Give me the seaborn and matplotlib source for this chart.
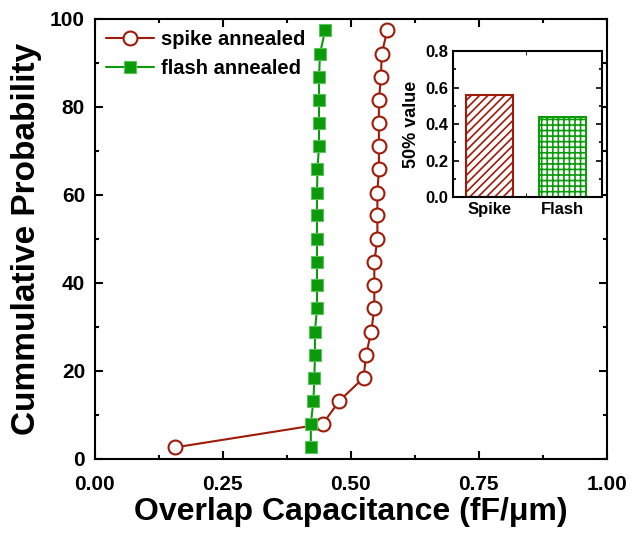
import matplotlib
matplotlib.use("Agg")
import matplotlib.pyplot as plt
import seaborn as sns
import pandas as pd
from matplotlib.ticker import MultipleLocator

# data
spike_cap = [0.157, 0.445, 0.478, 0.525, 0.530, 0.540, 0.546, 0.546, 0.546, 0.552,
             0.552, 0.552, 0.555, 0.555, 0.555, 0.555, 0.559, 0.5605, 0.5715]
spike_prob = [2.6, 7.9, 13.2, 18.4, 23.7, 28.9, 34.2, 39.5, 44.7, 50.0,
              55.3, 60.5, 65.8, 71.1, 76.3, 81.6, 86.8, 92.1, 97.4]
flash_cap = [0.422, 0.422, 0.427, 0.429, 0.430, 0.430, 0.434, 0.434, 0.434, 0.434,
             0.434, 0.434, 0.435, 0.438, 0.438, 0.438, 0.438, 0.440, 0.450]
flash_prob = [2.6, 7.9, 13.2, 18.4, 23.7, 28.9, 34.2, 39.5, 44.7, 50.0,
              55.3, 60.5, 65.8, 71.1, 76.3, 81.6, 86.8, 92.1, 97.4]
bar_labels = ["Spike", "Flash"]
bar_values = [0.558, 0.44]

red = "#a01a08"
green = "#0a9a0a"

sns.set_style("ticks")
plt.rcParams["font.family"] = ["Liberation Sans", "DejaVu Sans"]
plt.rcParams["font.weight"] = "bold"
plt.rcParams["axes.labelweight"] = "bold"
plt.rcParams["xtick.direction"] = "in"
plt.rcParams["ytick.direction"] = "in"
plt.rcParams["hatch.linewidth"] = 1.2
for k in ["text.color", "axes.labelcolor", "xtick.color", "ytick.color",
          "xtick.labelcolor", "ytick.labelcolor", "axes.edgecolor"]:
    plt.rcParams[k] = "black"

fig = plt.figure(figsize=(6.32, 5.36), dpi=100)
ax = fig.add_axes([0.150, 0.144, 0.810, 0.821])

sns.lineplot(x=spike_cap, y=spike_prob, sort=False, estimator=None, ax=ax,
             color=red, linewidth=1.5, marker="o", markersize=10,
             markerfacecolor="white", markeredgecolor=red, markeredgewidth=1.5,
             label="spike annealed")
sns.lineplot(x=flash_cap, y=flash_prob, sort=False, estimator=None, ax=ax,
             color=green, linewidth=1.5, marker="s", markersize=8,
             markerfacecolor=green, markeredgecolor="#5cc05c", markeredgewidth=0.8,
             label="flash annealed")

ax.set_xlim(0, 1.0)
ax.set_ylim(0, 100)
ax.xaxis.set_major_locator(MultipleLocator(0.25))
ax.xaxis.set_minor_locator(MultipleLocator(0.125))
ax.yaxis.set_major_locator(MultipleLocator(20))
ax.yaxis.set_minor_locator(MultipleLocator(10))
ax.tick_params(which="both", top=True, right=True, labelsize=15, width=1.5)
ax.tick_params(which="major", length=6)
ax.tick_params(which="minor", length=3)
ax.tick_params(axis="x", which="major", pad=12)
ax.tick_params(axis="y", which="major", pad=7)
for s in ax.spines.values():
    s.set_linewidth(1.5)
ax.set_xlabel("Overlap Capacitance (fF/\u03bcm)", fontsize=23, fontweight="bold",
              labelpad=2)
ax.set_ylabel("Cummulative Probability", fontsize=24, fontweight="bold", labelpad=6)
ax.legend(loc="upper left", frameon=False, fontsize=14.5, handlelength=2.4,
          handletextpad=0.35, borderaxespad=0.15, labelspacing=0.5)

# inset bar chart
ins = fig.add_axes([0.717, 0.632, 0.236, 0.273])
df = pd.DataFrame({"kind": bar_labels, "value": bar_values})
sns.barplot(data=df, x="kind", y="value", hue="kind", ax=ins, width=0.64,
            palette=["white", "white"], legend=False)
for patch, col, h in zip(ins.patches, [red, green], ["////", "+++"]):
    patch.set_edgecolor(col)
    patch.set_hatch(h)
    patch.set_linewidth(1.5)
ins.set_xlim(-0.5, 1.55)
ins.set_ylim(0, 0.8)
ins.yaxis.set_major_locator(MultipleLocator(0.2))
ins.yaxis.set_minor_locator(MultipleLocator(0.1))
ins.set_xticks([0, 1])
ins.set_xticks([0.5], minor=True)
ins.tick_params(axis="x", which="major", length=0, labelsize=12)
ins.tick_params(axis="x", which="minor", length=3, top=True)
ins.tick_params(axis="y", which="both", right=True, labelsize=12, width=1.2)
ins.tick_params(axis="y", which="major", length=4)
ins.tick_params(axis="y", which="minor", length=2)
for s in ins.spines.values():
    s.set_linewidth(1.5)
ins.set_xlabel("")
ins.set_ylabel("50% value", fontsize=13, fontweight="bold")

fig.savefig("out.png", dpi=100)
